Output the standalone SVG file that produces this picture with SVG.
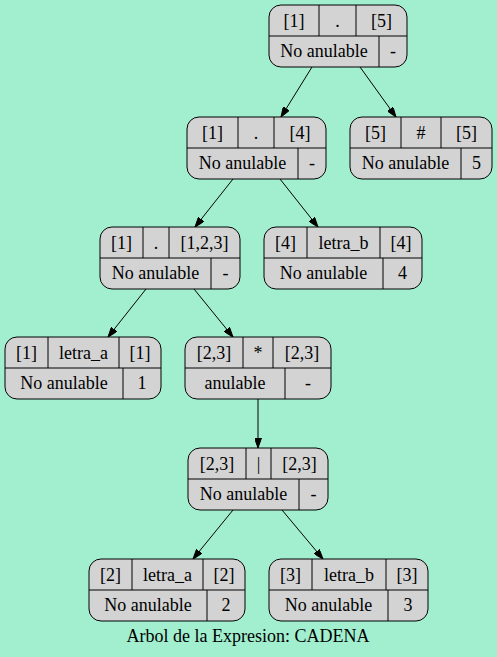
<svg xmlns="http://www.w3.org/2000/svg" width="497" height="657" viewBox="0 0 497 657" font-family="Liberation Serif, DejaVu Serif, serif">
<defs>
<style>
.bx{fill:#d3d3d3;stroke:#000;stroke-width:1}
.ln{stroke:#000;stroke-width:1;fill:none}
.t{font-size:18px;fill:#000;text-anchor:middle}
.e{stroke:#000;stroke-width:1;fill:none;marker-end:url(#ah)}
</style>
<marker id="ah" markerUnits="userSpaceOnUse" markerWidth="10" markerHeight="7" refX="10" refY="3.5" orient="auto">
<path d="M0,0 L10,3.5 L0,7 z" fill="#000" stroke="#000" stroke-width="1"/>
</marker>
</defs>
<rect width="497" height="657" fill="#a1efcf"/>
<g id="edges">
<line class="e" x1="312" y1="67" x2="281" y2="117"/>
<line class="e" x1="360" y1="67" x2="396" y2="117"/>
<line class="e" x1="233" y1="179" x2="195" y2="227"/>
<line class="e" x1="280" y1="179" x2="318" y2="227"/>
<line class="e" x1="146" y1="289" x2="108" y2="337"/>
<line class="e" x1="194" y1="289" x2="233" y2="337"/>
<line class="e" x1="258" y1="399" x2="258" y2="448"/>
<line class="e" x1="233" y1="510" x2="193" y2="559"/>
<line class="e" x1="282" y1="510" x2="323" y2="559"/>
</g>
<g id="n1" class="t" font-family="Liberation Serif, DejaVu Serif, serif">
<rect class="bx" x="269" y="5" width="138" height="62" rx="12"/>
<path class="ln" d="M269,36 H407 M319,5 V36 M356,5 V36 M379,36 V67"/>
<text x="294" y="27">[1]</text><text x="337.5" y="27">.</text><text x="381.5" y="27">[5]</text>
<text x="324" y="57">No anulable</text><text x="393" y="57">-</text>
</g>
<g id="n2" class="t" font-family="Liberation Serif, DejaVu Serif, serif">
<rect class="bx" x="187" y="117" width="139" height="62" rx="12"/>
<path class="ln" d="M187,148 H326 M238,117 V148 M274,117 V148 M298,148 V179"/>
<text x="212.5" y="139">[1]</text><text x="256" y="139">.</text><text x="300" y="139">[4]</text>
<text x="242.5" y="169">No anulable</text><text x="312" y="169">-</text>
</g>
<g id="n3" class="t" font-family="Liberation Serif, DejaVu Serif, serif">
<rect class="bx" x="350" y="117" width="142" height="62" rx="12"/>
<path class="ln" d="M350,148 H492 M401,117 V148 M441,117 V148 M461,148 V179"/>
<text x="375.5" y="139">[5]</text><text x="421" y="139">#</text><text x="466.5" y="139">[5]</text>
<text x="405.5" y="169">No anulable</text><text x="476.5" y="169">5</text>
</g>
<g id="n4" class="t" font-family="Liberation Serif, DejaVu Serif, serif">
<rect class="bx" x="100" y="227" width="140" height="62" rx="12"/>
<path class="ln" d="M100,258 H240 M143,227 V258 M169,227 V258 M211,258 V289"/>
<text x="121.5" y="249">[1]</text><text x="156" y="249">.</text><text x="204.5" y="249">[1,2,3]</text>
<text x="155.5" y="279">No anulable</text><text x="225.5" y="279">-</text>
</g>
<g id="n5" class="t" font-family="Liberation Serif, DejaVu Serif, serif">
<rect class="bx" x="264" y="227" width="158" height="62" rx="12"/>
<path class="ln" d="M264,258 H422 M307,227 V258 M380,227 V258 M383,258 V289"/>
<text x="285.5" y="249">[4]</text><text x="343.5" y="249">letra_b</text><text x="401" y="249">[4]</text>
<text x="323.5" y="279">No anulable</text><text x="402.5" y="279">4</text>
</g>
<g id="n6" class="t" font-family="Liberation Serif, DejaVu Serif, serif">
<rect class="bx" x="5" y="337" width="156" height="62" rx="12"/>
<path class="ln" d="M5,368 H161 M48,337 V368 M119,337 V368 M123,368 V399"/>
<text x="26.5" y="359">[1]</text><text x="83.5" y="359">letra_a</text><text x="140" y="359">[1]</text>
<text x="64" y="389">No anulable</text><text x="142" y="389">1</text>
</g>
<g id="n7" class="t" font-family="Liberation Serif, DejaVu Serif, serif">
<rect class="bx" x="185" y="337" width="146" height="62" rx="12"/>
<path class="ln" d="M185,368 H331 M243,337 V368 M273,337 V368 M285,368 V399"/>
<text x="214" y="359">[2,3]</text><text x="258" y="359">*</text><text x="302" y="359">[2,3]</text>
<text x="235" y="389">anulable</text><text x="308" y="389">-</text>
</g>
<g id="n8" class="t" font-family="Liberation Serif, DejaVu Serif, serif">
<rect class="bx" x="188" y="448" width="140" height="62" rx="12"/>
<path class="ln" d="M188,479 H328 M246,448 V479 M271,448 V479 M299,479 V510"/>
<text x="217" y="470">[2,3]</text><text x="258.5" y="470">|</text><text x="299.5" y="470">[2,3]</text>
<text x="243.5" y="500">No anulable</text><text x="313.5" y="500">-</text>
</g>
<g id="n9" class="t" font-family="Liberation Serif, DejaVu Serif, serif">
<rect class="bx" x="89" y="559" width="156" height="62" rx="12"/>
<path class="ln" d="M89,590 H245 M132,559 V590 M203,559 V590 M207,590 V621"/>
<text x="110.5" y="581">[2]</text><text x="167.5" y="581">letra_a</text><text x="224" y="581">[2]</text>
<text x="148" y="611">No anulable</text><text x="226" y="611">2</text>
</g>
<g id="n10" class="t" font-family="Liberation Serif, DejaVu Serif, serif">
<rect class="bx" x="269" y="559" width="159" height="62" rx="12"/>
<path class="ln" d="M269,590 H428 M312,559 V590 M386,559 V590 M388,590 V621"/>
<text x="290.5" y="581">[3]</text><text x="349" y="581">letra_b</text><text x="407" y="581">[3]</text>
<text x="328.5" y="611">No anulable</text><text x="408" y="611">3</text>
</g>
<text class="t" x="248" y="642" font-family="Liberation Serif, DejaVu Serif, serif">Arbol de la Expresion: CADENA</text>
</svg>
